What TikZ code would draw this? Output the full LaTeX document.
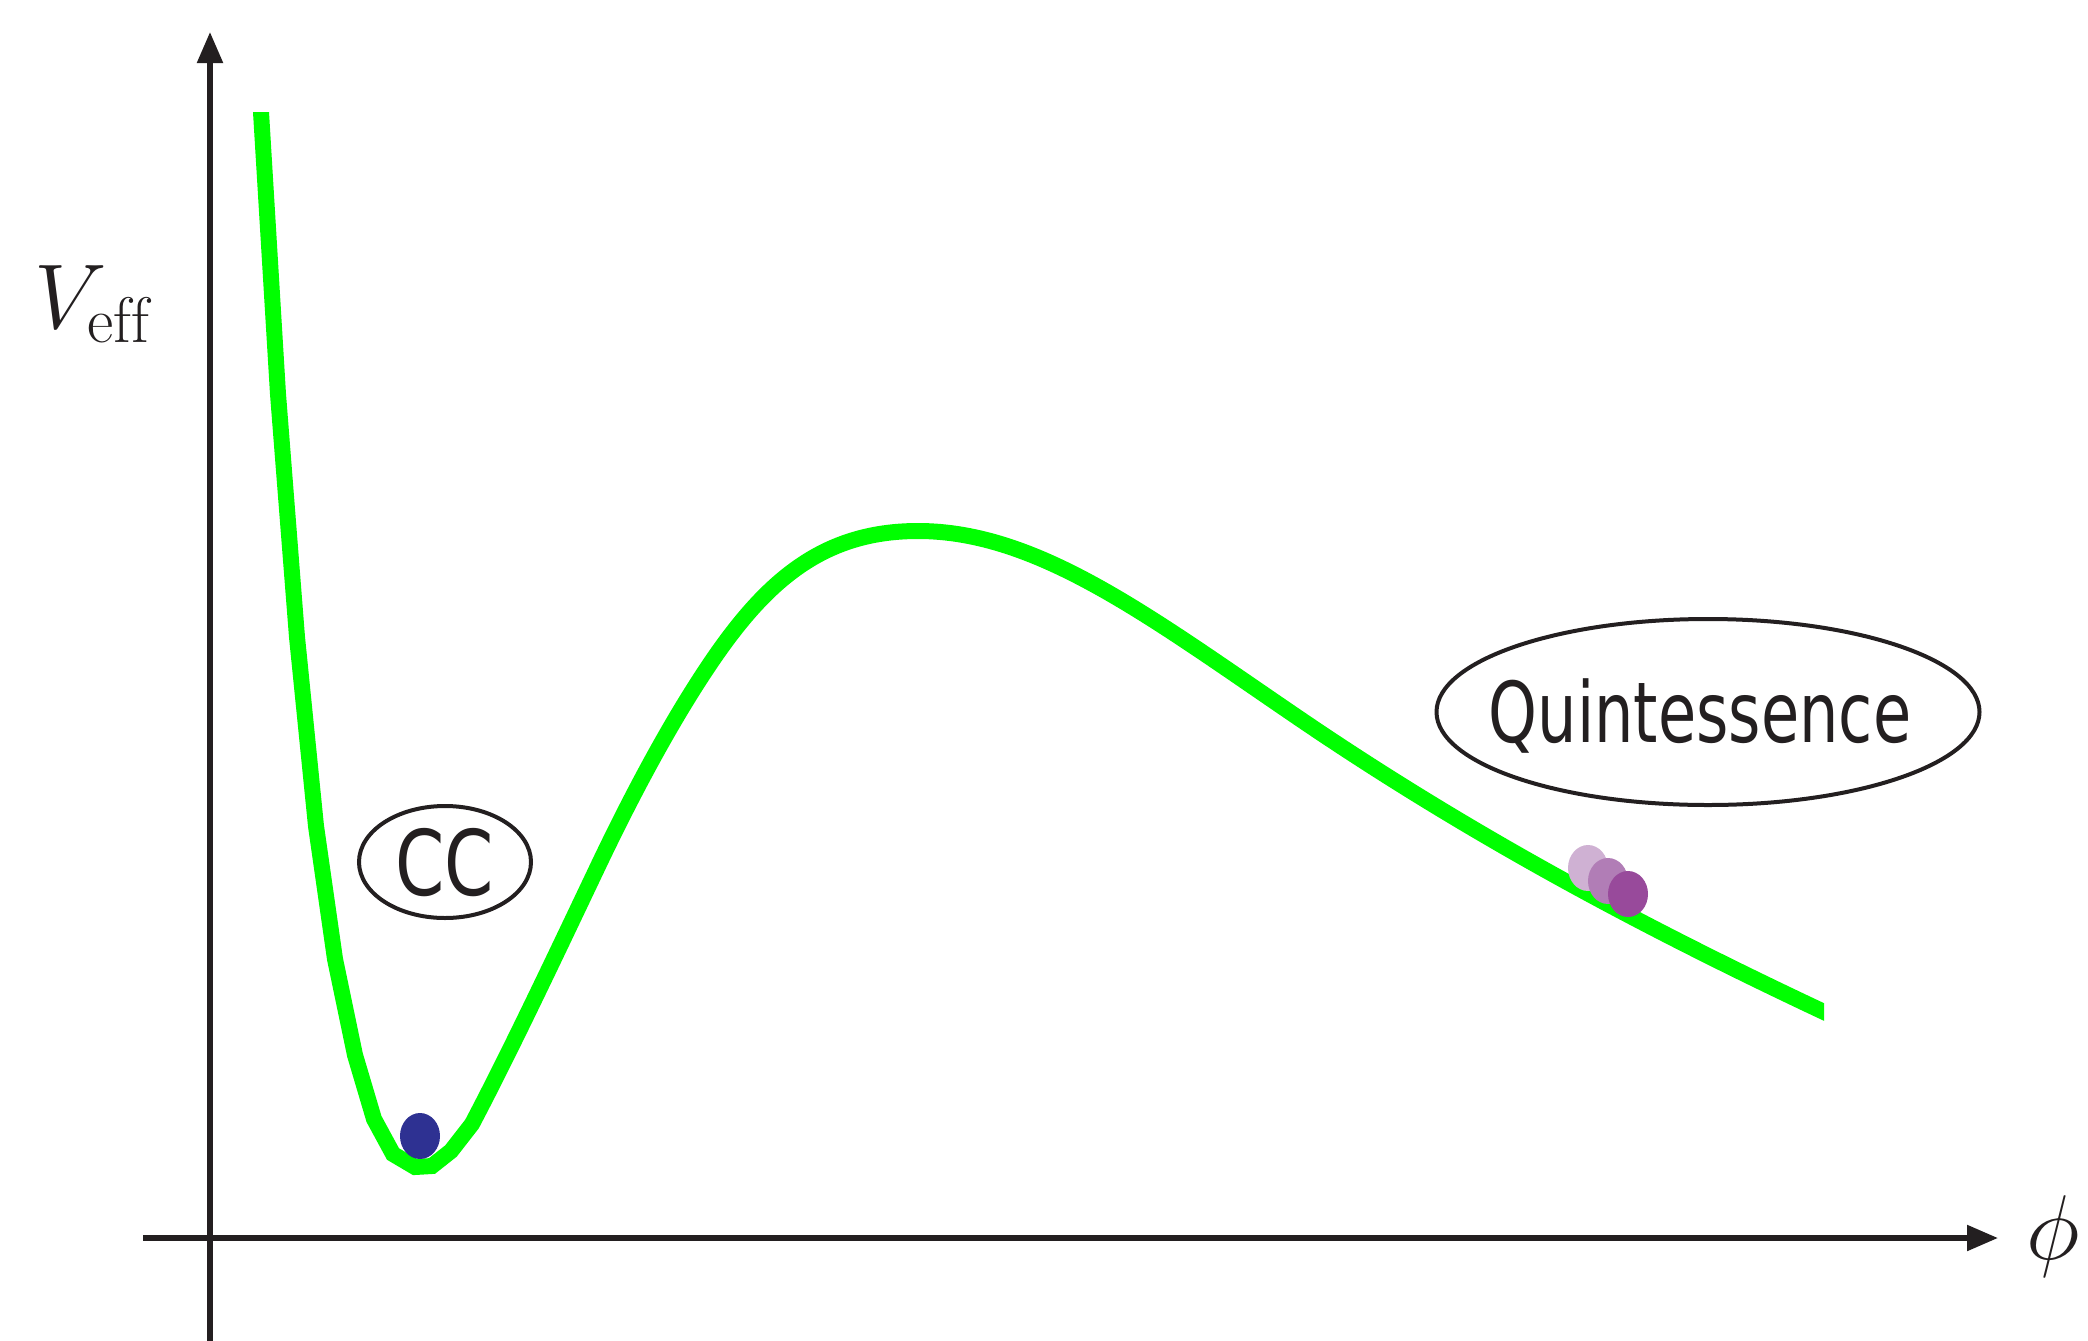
\RequirePackage{fix-cm}
\documentclass[tikz,border=0pt]{standalone}
\usepackage{fontspec}
\newfontfamily\lblfont{DejaVu Sans}
\usetikzlibrary{shapes.geometric,arrows.meta}
\definecolor{axiscol}{HTML}{231F20}
\definecolor{curvecol}{HTML}{00FF00}
\definecolor{ballblue}{HTML}{2E3192}
\definecolor{ballA}{HTML}{CFB1D3}
\definecolor{ballB}{HTML}{B17DB6}
\definecolor{ballC}{HTML}{984A9B}
\tikzset{
  axisline/.style={line width=5.3pt, draw=axiscol, -{Triangle[length=31pt,width=25pt]}},
  curveline/.style={line width=16pt, draw=curvecol},
  ovallabel/.style={ellipse, draw=axiscol, line width=4pt, inner sep=0pt, text=axiscol, text depth=0pt},
  ball/.style={ellipse, draw=none, inner sep=0pt, minimum width=40pt, minimum height=46pt},
  mathlbl/.style={font=\fontsize{92}{110}\selectfont, text=axiscol}
}
\begin{document}
\begin{tikzpicture}[x=1pt,y=-1pt]
\useasboundingbox (0,0) rectangle (2088,1341);
% axes
\coordinate (ybot) at (210,1341);
\coordinate (ytop) at (210,32);
\coordinate (xleft) at (143,1238);
\coordinate (xright) at (1998,1238);
\draw[axisline] (ybot) -- (ytop);
\draw[axisline] (xleft) -- (xright);
% potential curve
\begin{scope}
\clip (0,112) rectangle (1824,1341);
\draw[curveline] (259,80) -- (261,112) -- (278,394) -- (297,637) -- (316,826) -- (335,959)
  -- (355,1055) -- (374,1119) -- (393,1154) -- (415,1167) -- (432,1166) -- (451,1151) -- (472,1124)
  .. controls (512,1048) and (560,946) .. (600,862)
  .. controls (633,793) and (667,730) .. (700,679)
  .. controls (760,586) and (818,531) .. (918,531)
  .. controls (1038,531) and (1150,617) .. (1300,719)
  .. controls (1475,838) and (1649,929.75) .. (1824,1012)
  -- (1850,1024);
\end{scope}
% balls
\node[ball, fill=ballblue] (bcc) at (420,1136) {};
\node[ball, fill=ballA] (bq1) at (1588,868) {};
\node[ball, fill=ballB] (bq2) at (1608,881) {};
\node[ball, fill=ballC] (bq3) at (1628,894) {};
% labels
\node[ovallabel, minimum width=172pt, minimum height=112pt, text height=66pt,
  font=\lblfont\fontsize{90.5}{100}\selectfont] (cc) at (445,862)
  {\makebox[0pt]{\scalebox{0.78}[1]{CC}}};
\node[ovallabel, minimum width=543pt, minimum height=186pt, text height=61pt,
  font=\lblfont\fontsize{84}{100}\selectfont] (quint) at (1708,712)
  {\makebox[0pt]{\scalebox{0.74}[1]{Quintessence}\hspace{16pt}}};
\node[mathlbl] (veff) at (92,304) {$V_{\mathrm{eff}}$};
\node[mathlbl] (phi) at (2053,1236) {$\phi$};
\end{tikzpicture}
\end{document}
